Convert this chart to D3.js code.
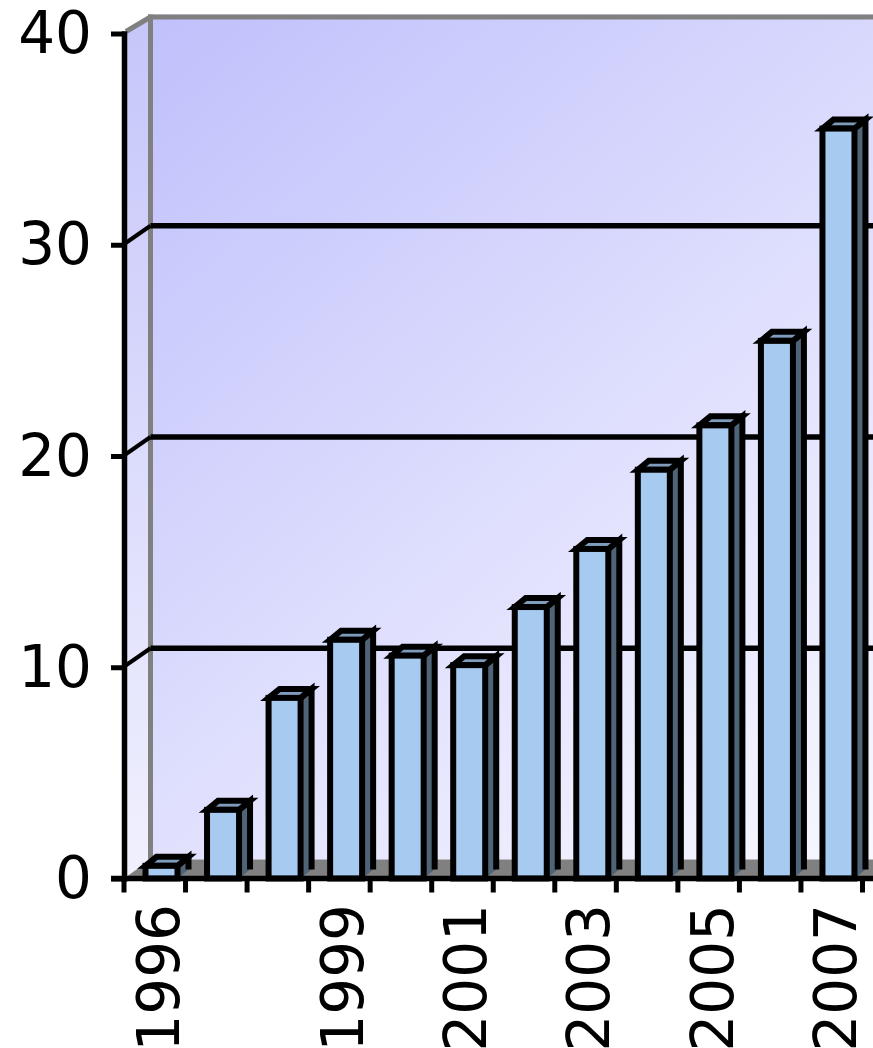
<!DOCTYPE html>
<html>
<head>
<meta charset="utf-8">
<script src="https://cdn.jsdelivr.net/npm/d3@7"></script>
<style>
  html, body { margin: 0; padding: 0; background: #ffffff; }
  svg { display: block; }
</style>
</head>
<body>
<svg id="chart" width="873" height="1048"></svg>
<script>
// Yearly values, one column per year
const years = ["1996","1997","1998","1999","2000","2001","2002","2003","2004","2005","2006","2007"];
const values = [0.6, 3.25, 8.55, 11.3, 10.55, 10.1, 12.85, 15.6, 19.35, 21.45, 25.45, 35.5];
const yTicks = [0, 10, 20, 30, 40];
const gridValues = [10, 20, 30];
const shownYears = ["1996", "1999", "2001", "2003", "2005", "2007"];

const W = 873, H = 1048;
const svg = d3.select("#chart");

const x = d3.scaleBand().domain(years).range([124, 862.5]).padding(0);
const y = d3.scaleLinear().domain([0, 40]).range([878.5, 33.5]);

// depth offsets: walls and columns
const WX = 26.5, WY = -19;
const BX = 11, BY = -9;
const barOffset = 21.5, barWidth = 32;

const FONT = "'DejaVu Sans', Verdana, sans-serif";

const defs = svg.append("defs");
const wallGrad = defs.append("linearGradient")
  .attr("id", "wallGrad").attr("gradientUnits", "userSpaceOnUse")
  .attr("x1", 150).attr("y1", 15).attr("x2", 873).attr("y2", 860);
wallGrad.append("stop").attr("offset", 0).attr("stop-color", "#c0c0fc");
wallGrad.append("stop").attr("offset", 1).attr("stop-color", "#f8f8ff");

const sideGrad = defs.append("linearGradient")
  .attr("id", "sideGrad").attr("gradientUnits", "userSpaceOnUse")
  .attr("x1", 124).attr("y1", 20).attr("x2", 150).attr("y2", 870);
sideGrad.append("stop").attr("offset", 0).attr("stop-color", "#c6c6fa");
sideGrad.append("stop").attr("offset", 1).attr("stop-color", "#f0f0fe");

const x0 = x.range()[0], x1 = x.range()[1];
const yTop = y(40), yBase = y(0);

// back wall
svg.append("rect")
  .attr("x", x0 + WX).attr("y", yTop + WY)
  .attr("width", W - (x0 + WX) + 10).attr("height", yBase - yTop)
  .attr("fill", "url(#wallGrad)");

// side wall
svg.append("polygon")
  .attr("points", [[x0, yTop], [x0 + WX, yTop + WY], [x0 + WX, yBase + WY], [x0, yBase]].join(" "))
  .attr("fill", "url(#sideGrad)");

// floor
svg.append("polygon")
  .attr("points", [[x0, yBase], [x0 + WX, yBase + WY], [W + 30, yBase + WY], [W + 30 - WX, yBase]].join(" "))
  .attr("fill", "#808080");

// wall borders
svg.append("line")
  .attr("x1", x0 + WX).attr("x2", x0 + WX)
  .attr("y1", yTop + WY).attr("y2", yBase + WY)
  .attr("stroke", "#808080").attr("stroke-width", 5);
svg.append("line")
  .attr("x1", x0 + WX - 2.5).attr("x2", W + 10)
  .attr("y1", yTop + WY + 2.5).attr("y2", yTop + WY + 2.5)
  .attr("stroke", "#808080").attr("stroke-width", 5);
svg.append("line")
  .attr("x1", x0 + 2).attr("y1", yTop - 2)
  .attr("x2", x0 + WX).attr("y2", yTop + WY + 2.5)
  .attr("stroke", "#808080").attr("stroke-width", 5);

// gridlines on the back wall with connectors across the side wall
const grid = svg.append("g");
grid.selectAll("line.grid").data(gridValues).join("line")
  .attr("class", "grid")
  .attr("x1", x0 + WX).attr("x2", W + 10)
  .attr("y1", d => y(d) + WY).attr("y2", d => y(d) + WY)
  .attr("stroke", "#000").attr("stroke-width", 5.5);
grid.selectAll("line.conn").data(gridValues).join("line")
  .attr("class", "conn")
  .attr("x1", x0 + 2).attr("y1", d => y(d) - 2)
  .attr("x2", x0 + WX).attr("y2", d => y(d) + WY)
  .attr("stroke", "#000").attr("stroke-width", 4);

// columns
const bars = svg.append("g").selectAll("g.bar")
  .data(years.map((yr, i) => ({ yr, v: values[i] })))
  .join("g").attr("class", "bar");

bars.each(function(d) {
  const g = d3.select(this);
  const l = x(d.yr) + barOffset, r = l + barWidth;
  const t = y(d.v), b = y(0);
  // side face
  g.append("polygon")
    .attr("points", [[r, t], [r + BX, t + BY], [r + BX, b + BY], [r, b]].join(" "))
    .attr("fill", "#506478");
  g.append("polyline")
    .attr("points", [[r, t], [r + BX, t + BY], [r + BX, b + BY]].join(" "))
    .attr("fill", "none").attr("stroke", "#000").attr("stroke-width", 6)
    .attr("stroke-linejoin", "miter");
  // top face
  g.append("polygon")
    .attr("points", [[l, t], [l + BX, t + BY], [r + BX, t + BY], [r, t]].join(" "))
    .attr("fill", "#7f9cbc").attr("stroke", "#000").attr("stroke-width", 6);
  // front face
  g.append("rect")
    .attr("x", l).attr("y", t).attr("width", barWidth).attr("height", b - t)
    .attr("fill", "#a6caf0").attr("stroke", "#000").attr("stroke-width", 6);
});

// value axis
const yAxis = svg.append("g")
  .attr("transform", `translate(${x0},0)`)
  .call(d3.axisLeft(y).tickValues(yTicks).tickSize(13).tickSizeOuter(0).tickPadding(19));
yAxis.select(".domain").attr("stroke", "#000").attr("stroke-width", 5.5).attr("stroke-linecap", "square");
yAxis.selectAll(".tick line").attr("stroke", "#000").attr("stroke-width", 5);
yAxis.selectAll(".tick text")
  .attr("font-family", FONT).attr("font-size", 58).attr("fill", "#000")
  .attr("dy", "0.33em");

// category axis: baseline, boundary ticks, rotated labels
svg.append("line")
  .attr("x1", x0 - 13).attr("x2", W + 10)
  .attr("y1", yBase).attr("y2", yBase)
  .attr("stroke", "#000").attr("stroke-width", 5.5);
const bounds = years.map(d => x(d)).concat([x1]);
svg.append("g").selectAll("line").data(bounds).join("line")
  .attr("x1", d => d).attr("x2", d => d)
  .attr("y1", yBase).attr("y2", yBase + 14)
  .attr("stroke", "#000").attr("stroke-width", 5);

const xAxis = svg.append("g")
  .attr("transform", `translate(0,${yBase})`)
  .call(d3.axisBottom(x).tickSize(0).tickFormat(d => shownYears.includes(d) ? d : ""));
xAxis.select(".domain").remove();
xAxis.selectAll(".tick text")
  .attr("font-family", FONT).attr("font-size", 58).attr("fill", "#000")
  .attr("y", 0).attr("dy", "0.36em")
  .attr("text-anchor", "end")
  .attr("transform", "translate(3,25.5) rotate(-90)");
</script>
</body>
</html>
